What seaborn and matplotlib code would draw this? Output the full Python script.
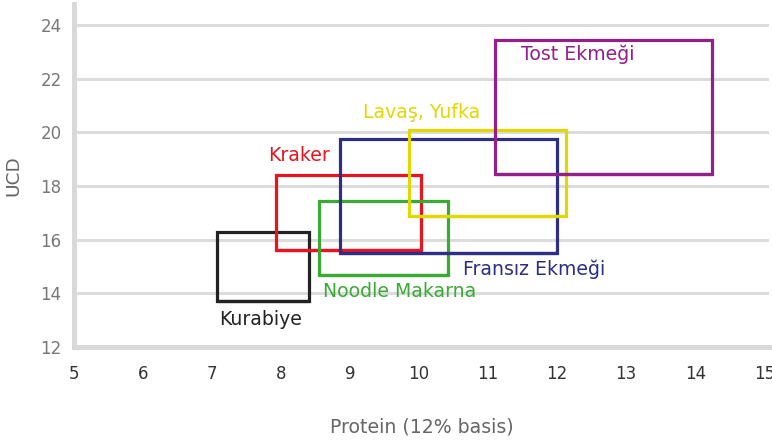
import numpy as np
import pandas as pd
import seaborn as sns
import matplotlib
matplotlib.use("Agg")
import matplotlib.pyplot as plt

# data
products = ["Kurabiye", "Kraker", "Noodle Makarna", "Fransız Ekmeği", "Lavaş, Yufka", "Tost Ekmeği"]
protein_min = [7.07, 7.93, 8.55, 8.85, 9.85, 11.1]
protein_max = [8.4, 10.03, 10.42, 12.0, 12.13, 14.25]
ucd_min = [13.7, 15.6, 14.7, 15.5, 16.9, 18.45]
ucd_max = [16.3, 18.4, 17.45, 19.75, 20.1, 23.45]
colors = ["#222222", "#e8141f", "#3aaa35", "#2e2e82", "#e0d800", "#931f8a"]

x_ticks = [5, 6, 7, 8, 9, 10, 11, 12, 13, 14, 15]
y_ticks = [12, 14, 16, 18, 20, 22, 24]

sns.set_style("white")
plt.rcParams['font.family'] = ['DejaVu Sans']

# outline of each box as a closed path
rows = []
for name, x0, x1, y0, y1 in zip(products, protein_min, protein_max, ucd_min, ucd_max):
    for i, (px, py) in enumerate([(x0, y0), (x1, y0), (x1, y1), (x0, y1), (x0, y0), (x1, y0)]):
        rows.append({"product": name, "order": i, "protein": px, "ucd": py})
boxes = pd.DataFrame(rows)

fig = plt.figure(figsize=(7.72, 4.42), dpi=100)
ax = fig.add_axes([0.0959, 0.2149, 0.9003, 0.7760])

sns.lineplot(data=boxes, x="protein", y="ucd", hue="product", hue_order=products,
             palette=colors, sort=False, estimator=None, units="product",
             linewidth=2.3, legend=False, ax=ax)
for line in ax.lines:
    line.set_solid_joinstyle("miter")

# label placement: (anchor x, anchor y, dx px, dy px)
label_pos = {
    "Kurabiye": ("left", "bottom", 2, -18),
    "Kraker": ("left", "top", -8, 20),
    "Noodle Makarna": ("left", "bottom", 4, -17),
    "Fransız Ekmeği": ("right", "bottom", -94, -16),
    "Lavaş, Yufka": ("left", "top", -46, 17),
    "Tost Ekmeği": ("left", "top", 26, -15),
}
for name, x0, x1, y0, y1, c in zip(products, protein_min, protein_max, ucd_min, ucd_max, colors):
    sx, sy, dx, dy = label_pos[name]
    ax_x = x0 if sx == "left" else x1
    ax_y = y0 if sy == "bottom" else y1
    ax.annotate(name, xy=(ax_x, ax_y), xytext=(dx, dy), textcoords="offset pixels",
                ha="left", va="center", color=c, fontsize=13.6)

ax.set_xlim(5, 15.07)
ax.set_ylim(12, 24.78)
ax.set_xticks(x_ticks)
ax.set_yticks(y_ticks)
ax.yaxis.grid(True, color="#dcdcdc", linewidth=2.2)
ax.set_axisbelow(True)
for s in ["top", "right"]:
    ax.spines[s].set_visible(False)
for s in ["left", "bottom"]:
    ax.spines[s].set_color("#d9d9d9")
    ax.spines[s].set_linewidth(3.6)
ax.tick_params(axis="x", colors="#333333", labelsize=12, length=4, width=1.5, pad=9)
ax.tick_params(axis="y", colors="#777777", labelsize=12, length=4, width=1.5, pad=5)
ax.tick_params(axis="both", color="#d9d9d9")
ax.set_xlabel("Protein (12% basis)", color="#666666", fontsize=13.6, labelpad=25)
ax.set_ylabel("UCD", color="#666666", fontsize=13.3, labelpad=13)

fig.savefig("out.png", dpi=100)
